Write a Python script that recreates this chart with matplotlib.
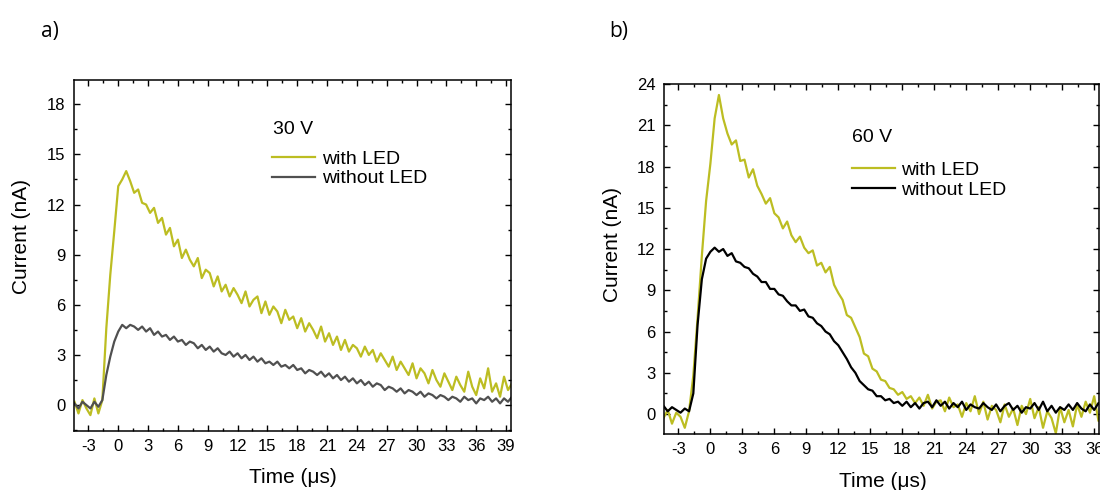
import numpy as np
import matplotlib
matplotlib.use("Agg")
import matplotlib.pyplot as plt
from matplotlib.ticker import MultipleLocator

plt.rcParams['font.family'] = ['Liberation Sans', 'DejaVu Sans']
plt.rcParams['axes.unicode_minus'] = False

OLIVE = "#bcbd22"
DT = 0.4  # sampling step (us)
T0 = -4.4

# panel a) 30 V
a_with_led = [
    0.2, -0.5, 0.3, -0.2, -0.6, 0.4, -0.5, 0.3, 4.6, 7.8,
    10.4, 13.1, 13.5, 14.0, 13.4, 12.7, 12.9, 12.1, 12.0, 11.5,
    11.8, 10.9, 11.2, 10.2, 10.6, 9.5, 9.9, 8.8, 9.3, 8.7,
    8.3, 8.8, 7.6, 8.1, 7.9, 7.1, 7.7, 6.8, 7.2, 6.5,
    7.0, 6.6, 6.1, 6.8, 5.9, 6.3, 6.5, 5.5, 6.2, 5.4,
    5.9, 5.6, 4.9, 5.7, 5.1, 5.3, 4.6, 5.2, 4.4, 4.9,
    4.5, 4.0, 4.7, 3.8, 4.3, 3.6, 4.1, 3.3, 3.9, 3.2,
    3.6, 3.4, 2.9, 3.5, 3.0, 3.3, 2.6, 3.1, 2.7, 2.3,
    2.9, 2.1, 2.6, 2.2, 1.8, 2.5, 1.6, 2.2, 1.9, 1.3,
    2.1, 1.5, 1.1, 1.9, 1.4, 0.9, 1.7, 1.2, 0.8, 2.0,
    1.1, 0.6, 1.6, 1.0, 2.2, 0.8, 1.3, 0.5, 1.7, 0.9,
    1.3,
]
a_without_led = [
    0.1, -0.2, 0.2, 0.0, -0.2, 0.2, -0.1, 0.3, 1.8, 2.9,
    3.8, 4.4, 4.8, 4.6, 4.8, 4.7, 4.5, 4.7, 4.4, 4.6,
    4.2, 4.4, 4.1, 4.2, 3.9, 4.1, 3.8, 3.9, 3.6, 3.8,
    3.7, 3.4, 3.6, 3.3, 3.5, 3.2, 3.4, 3.1, 3.0, 3.2,
    2.9, 3.1, 2.8, 3.0, 2.7, 2.9, 2.6, 2.8, 2.5, 2.6,
    2.4, 2.6, 2.3, 2.4, 2.2, 2.4, 2.1, 2.2, 1.9, 2.1,
    2.0, 1.8, 2.0, 1.7, 1.9, 1.6, 1.8, 1.5, 1.7, 1.4,
    1.6, 1.3, 1.5, 1.2, 1.4, 1.1, 1.3, 1.2, 0.9, 1.1,
    1.0, 0.8, 1.0, 0.7, 0.9, 0.8, 0.6, 0.8, 0.5, 0.7,
    0.6, 0.4, 0.6, 0.5, 0.3, 0.5, 0.4, 0.2, 0.5, 0.3,
    0.4, 0.1, 0.4, 0.3, 0.5, 0.2, 0.4, 0.1, 0.4, 0.2,
    0.5,
]

# panel b) 60 V
b_with_led = [
    -0.3, 0.3, -0.7, 0.1, -0.2, -1.0, 0.2, 2.8, 7.0, 11.5,
    15.5, 18.2, 21.5, 23.2, 21.5, 20.4, 19.6, 19.9, 18.4, 18.5,
    17.2, 17.8, 16.6, 16.0, 15.3, 15.7, 14.6, 14.3, 13.5, 14.0,
    13.0, 12.5, 12.9, 12.1, 11.7, 11.9, 10.8, 11.0, 10.3, 10.7,
    9.4, 8.8, 8.3, 7.2, 7.0, 6.3, 5.6, 4.4, 4.2, 3.3,
    3.1, 2.5, 2.4, 1.9, 1.8, 1.4, 1.6, 1.1, 1.3, 0.8,
    1.2, 0.6, 1.4, 0.4, 0.9, 1.0, 0.2, 1.2, 0.5, 0.7,
    -0.2, 0.8, 0.2, 1.3, 0.0, 0.9, -0.4, 0.6, 0.3, -0.6,
    0.7, -0.2, 0.4, -0.8, 0.6, 0.0, 1.1, -0.3, 0.5, -1.0,
    0.2, -0.3, -1.4, 0.5, -0.6, 0.3, -0.9, 0.7, -0.2, 0.9,
    0.1, 1.3, -0.5, 0.4, 1.0,
]
b_without_led = [
    0.6, 0.2, 0.5, 0.3, 0.1, 0.4, 0.2, 1.5, 6.5, 9.8,
    11.3, 11.8, 12.1, 11.8, 12.0, 11.5, 11.7, 11.1, 11.0, 10.7,
    10.6, 10.2, 10.0, 9.6, 9.6, 9.1, 9.1, 8.7, 8.6, 8.2,
    7.9, 7.9, 7.5, 7.6, 7.1, 7.0, 6.6, 6.4, 6.0, 5.8,
    5.3, 5.0, 4.5, 4.0, 3.4, 3.0, 2.4, 2.1, 1.8, 1.7,
    1.3, 1.3, 1.0, 1.1, 0.8, 0.9, 0.6, 0.9, 0.5, 0.8,
    0.4, 0.8, 0.9, 0.5, 1.0, 0.6, 0.9, 0.4, 0.8, 0.5,
    0.9, 0.3, 0.7, 0.5, 0.4, 0.8, 0.5, 0.3, 0.7, 0.2,
    0.6, 0.8, 0.3, 0.6, 0.1, 0.5, 0.4, 0.8, 0.3, 0.9,
    0.2, 0.6, 0.1, 0.5, 0.3, 0.7, 0.3, 0.8, 0.4, 0.2,
    0.7, 0.3, 0.8, 0.4, 0.6,
]


def time_axis(values):
    return T0 + DT * np.arange(len(values))


def style_axes(ax, xlim, ylim, xmaj, ymaj):
    ax.set_xlim(*xlim)
    ax.set_ylim(*ylim)
    ax.xaxis.set_major_locator(MultipleLocator(xmaj))
    ax.xaxis.set_minor_locator(MultipleLocator(xmaj / 2))
    ax.yaxis.set_major_locator(MultipleLocator(ymaj))
    ax.yaxis.set_minor_locator(MultipleLocator(ymaj / 2))
    ax.tick_params(which='both', direction='in', top=True, right=True, width=1.0)
    ax.tick_params(which='major', length=4.5, labelsize=12, pad=6)
    ax.tick_params(which='minor', length=2.3)
    for s in ax.spines.values():
        s.set_linewidth(1.1)


fig = plt.figure(figsize=(11, 4.9), dpi=100)

# a)
ax1 = fig.add_axes([74 / 1100, 1 - 431 / 490, 437 / 1100, 351 / 490])
ax1.plot(time_axis(a_with_led), a_with_led, color=OLIVE, lw=1.6, label='with LED')
ax1.plot(time_axis(a_without_led), a_without_led, color='#505050', lw=1.6, label='without LED')
style_axes(ax1, (-4.45, 39.5), (-1.55, 19.45), 3, 3)
ax1.set_xticks(np.arange(-3, 40, 3))
ax1.set_yticks(np.arange(0, 19, 3))
ax1.text(0.455, 0.86, '30 V', transform=ax1.transAxes, fontsize=14, va='center')
ax1.legend(loc='upper left', bbox_to_anchor=(0.453, 0.80), frameon=False, fontsize=14,
           handlelength=2.2, handletextpad=0.35, labelspacing=0.1, borderpad=0, borderaxespad=0)

# b)
ax2 = fig.add_axes([664 / 1100, 1 - 434 / 490, 435 / 1100, 350 / 490])
ax2.plot(time_axis(b_with_led), b_with_led, color=OLIVE, lw=1.6, label='with LED')
ax2.plot(time_axis(b_without_led), b_without_led, color='black', lw=1.6, label='without LED')
style_axes(ax2, (-4.35, 36.45), (-1.45, 24), 3, 3)
ax2.set_xticks(np.arange(-3, 37, 3))
ax2.set_yticks(np.arange(0, 25, 3))
ax2.text(0.432, 0.846, '60 V', transform=ax2.transAxes, fontsize=14, va='center')
ax2.legend(loc='upper left', bbox_to_anchor=(0.432, 0.78), frameon=False, fontsize=14,
           handlelength=2.2, handletextpad=0.35, labelspacing=0.15, borderpad=0, borderaxespad=0)

# axis labels and panel letters
fig.text(22 / 1100, 1 - 237 / 490, 'Current (nA)', rotation=90, fontsize=15, ha='center', va='center')
fig.text(612 / 1100, 1 - 244 / 490, 'Current (nA)', rotation=90, fontsize=15, ha='center', va='center')
fig.text(293 / 1100, 1 - 477 / 490, 'Time (\u03bcs)', fontsize=15, ha='center', va='center')
fig.text(883 / 1100, 1 - 481 / 490, 'Time (\u03bcs)', fontsize=15, ha='center', va='center')
fig.text(50 / 1100, 1 - 31 / 490, 'a)', fontsize=15, ha='center', va='center', family='Open Sans')
fig.text(619 / 1100, 1 - 31 / 490, 'b)', fontsize=15, ha='center', va='center', family='Open Sans')

fig.savefig('out.png', dpi=100)
